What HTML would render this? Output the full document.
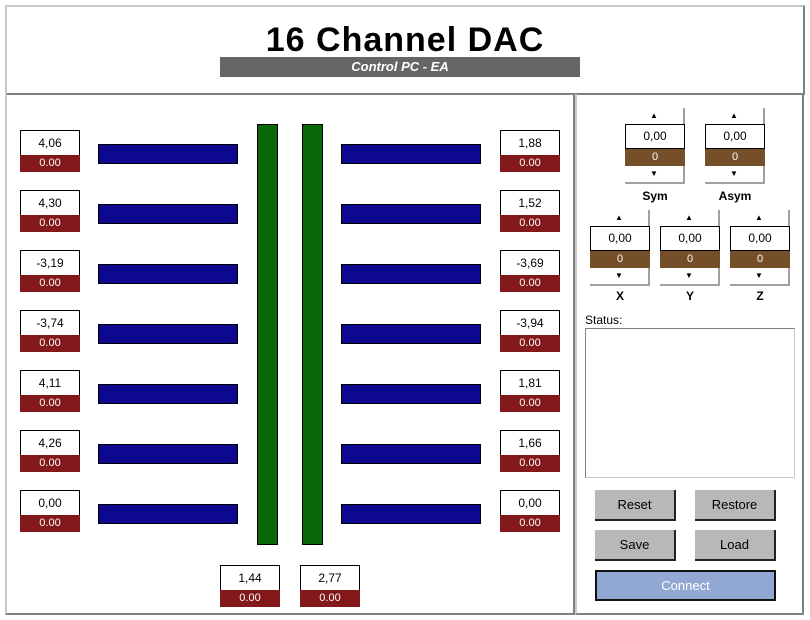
<!DOCTYPE html>
<html><head><meta charset="utf-8"><style>
body{margin:0;width:810px;height:620px;background:#fff;position:relative;overflow:hidden;font-family:"Liberation Sans",sans-serif}
div{position:absolute;box-sizing:border-box}
.v{width:60px;height:26px;border:1px solid #000;background:#fff;font-size:12px;text-align:center;line-height:24px;color:#000}
.r{width:60px;height:17px;background:#82181a;color:#fff;font-size:11px;text-align:center;line-height:17px}
.b{width:140px;height:20px;background:#0c0890;border:1px solid #000}
.g{width:21px;height:421px;background:#086808;border:1px solid #000;top:124px}
.sp{width:60px;border-right:2px solid #a0a0a0;border-bottom:2px solid #a0a0a0;background:#fff}
.ar{width:100%;text-align:center;font-size:8px;line-height:16px}
.sv{position:relative;width:60px;height:25px;border:1px solid #000;text-align:center;font-size:12px;line-height:23px;background:#fff}
.sb{position:relative;width:60px;height:17px;background:#744f2a;color:#fff;text-align:center;font-size:11px;line-height:17px}
.lb{font-weight:bold;font-size:12px;text-align:center;width:60px}
.btn{width:81px;height:31px;background:#b8b8b8;border-right:2px solid #222;border-bottom:2px solid #222;text-align:center;line-height:29px;font-size:13px}
</style></head><body>
<div style="left:5px;top:5px;width:800px;height:90px;border-top:2px solid #c8c8c8;border-left:2px solid #c8c8c8;border-right:2px solid #808080;border-bottom:2px solid #808080"></div>
<div style="left:0;top:21px;width:810px;text-align:center;font-size:34px;font-weight:bold;line-height:38px;letter-spacing:1px">16 Channel DAC</div>
<div style="left:220px;top:57px;width:360px;height:20px;background:#666;color:#fff;font-style:italic;font-weight:bold;font-size:13px;text-align:center;line-height:20px">Control PC - EA</div>
<div style="left:5px;top:94px;width:570px;height:521px;border-left:2px solid #c8c8c8;border-right:2px solid #808080;border-bottom:2px solid #808080"></div>
<div style="left:575px;top:94px;width:229px;height:521px;border-left:2px solid #c8c8c8;border-right:2px solid #808080;border-bottom:2px solid #808080"></div>

<div class="v" style="left:20px;top:130px">4,06</div><div class="r" style="left:20px;top:155px">0.00</div>
<div class="v" style="left:20px;top:190px">4,30</div><div class="r" style="left:20px;top:215px">0.00</div>
<div class="v" style="left:20px;top:250px">-3,19</div><div class="r" style="left:20px;top:275px">0.00</div>
<div class="v" style="left:20px;top:310px">-3,74</div><div class="r" style="left:20px;top:335px">0.00</div>
<div class="v" style="left:20px;top:370px">4,11</div><div class="r" style="left:20px;top:395px">0.00</div>
<div class="v" style="left:20px;top:430px">4,26</div><div class="r" style="left:20px;top:455px">0.00</div>
<div class="v" style="left:20px;top:490px">0,00</div><div class="r" style="left:20px;top:515px">0.00</div>

<div class="v" style="left:500px;top:130px">1,88</div><div class="r" style="left:500px;top:155px">0.00</div>
<div class="v" style="left:500px;top:190px">1,52</div><div class="r" style="left:500px;top:215px">0.00</div>
<div class="v" style="left:500px;top:250px">-3,69</div><div class="r" style="left:500px;top:275px">0.00</div>
<div class="v" style="left:500px;top:310px">-3,94</div><div class="r" style="left:500px;top:335px">0.00</div>
<div class="v" style="left:500px;top:370px">1,81</div><div class="r" style="left:500px;top:395px">0.00</div>
<div class="v" style="left:500px;top:430px">1,66</div><div class="r" style="left:500px;top:455px">0.00</div>
<div class="v" style="left:500px;top:490px">0,00</div><div class="r" style="left:500px;top:515px">0.00</div>

<div class="v" style="left:220px;top:565px">1,44</div><div class="r" style="left:220px;top:590px">0.00</div>
<div class="v" style="left:300px;top:565px">2,77</div><div class="r" style="left:300px;top:590px">0.00</div>

<div class="b" style="left:98px;top:144px"></div><div class="b" style="left:341px;top:144px"></div>
<div class="b" style="left:98px;top:204px"></div><div class="b" style="left:341px;top:204px"></div>
<div class="b" style="left:98px;top:264px"></div><div class="b" style="left:341px;top:264px"></div>
<div class="b" style="left:98px;top:324px"></div><div class="b" style="left:341px;top:324px"></div>
<div class="b" style="left:98px;top:384px"></div><div class="b" style="left:341px;top:384px"></div>
<div class="b" style="left:98px;top:444px"></div><div class="b" style="left:341px;top:444px"></div>
<div class="b" style="left:98px;top:504px"></div><div class="b" style="left:341px;top:504px"></div>
<div class="g" style="left:257px"></div><div class="g" style="left:302px"></div>

<div class="sp" style="left:625px;top:108px"><div class="ar" style="position:relative">▲</div><div class="sv">0,00</div><div class="sb">0</div><div class="ar" style="position:relative">▼</div></div>
<div class="sp" style="left:705px;top:108px"><div class="ar" style="position:relative">▲</div><div class="sv">0,00</div><div class="sb">0</div><div class="ar" style="position:relative">▼</div></div>
<div class="lb" style="left:625px;top:189px">Sym</div><div class="lb" style="left:705px;top:189px">Asym</div>
<div class="sp" style="left:590px;top:210px"><div class="ar" style="position:relative">▲</div><div class="sv">0,00</div><div class="sb">0</div><div class="ar" style="position:relative">▼</div></div>
<div class="sp" style="left:660px;top:210px"><div class="ar" style="position:relative">▲</div><div class="sv">0,00</div><div class="sb">0</div><div class="ar" style="position:relative">▼</div></div>
<div class="sp" style="left:730px;top:210px"><div class="ar" style="position:relative">▲</div><div class="sv">0,00</div><div class="sb">0</div><div class="ar" style="position:relative">▼</div></div>
<div class="lb" style="left:590px;top:289px">X</div><div class="lb" style="left:660px;top:289px">Y</div><div class="lb" style="left:730px;top:289px">Z</div>

<div style="left:585px;top:313px;font-size:12px">Status:</div>
<div style="left:585px;top:328px;width:210px;height:150px;border:1px solid #808080;border-right-color:#c8c8c8;border-bottom-color:#c8c8c8"></div>
<div class="btn" style="left:595px;top:490px">Reset</div>
<div class="btn" style="left:695px;top:490px">Restore</div>
<div class="btn" style="left:595px;top:530px">Save</div>
<div class="btn" style="left:695px;top:530px">Load</div>
<div style="left:595px;top:570px;width:181px;height:31px;background:#91a8d2;border:2px solid #111;color:#fff;text-align:center;line-height:27px;font-size:13px">Connect</div>
</body></html>
